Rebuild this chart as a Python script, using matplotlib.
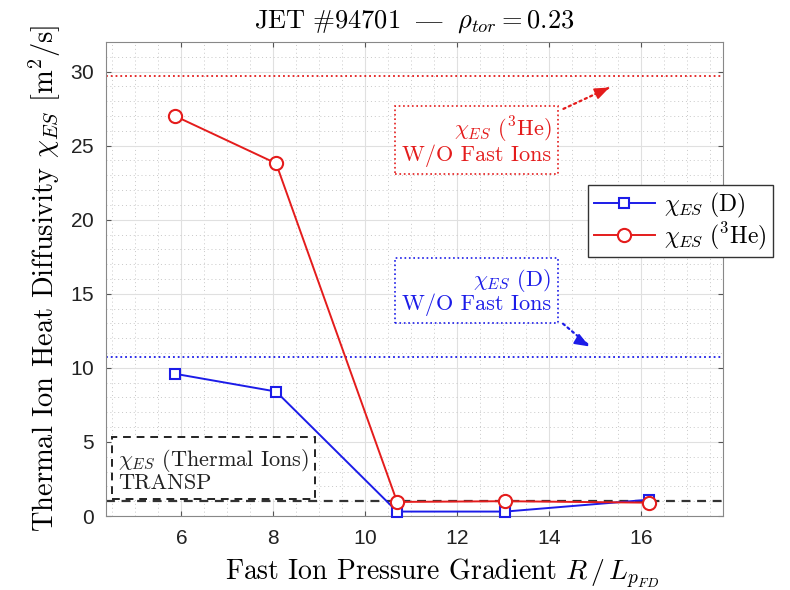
import numpy as np
import matplotlib
matplotlib.use("Agg")
import matplotlib.pyplot as plt
from matplotlib.ticker import MultipleLocator

plt.rcParams['font.family'] = ['cmr10', 'DejaVu Serif']
plt.rcParams['mathtext.fontset'] = 'cm'
plt.rcParams['axes.formatter.use_mathtext'] = True

# data
grad = [5.87, 8.07, 10.7, 13.05, 16.17]
chi_d = [9.6, 8.4, 0.3, 0.3, 1.1]
chi_he = [27.0, 23.8, 0.95, 1.0, 0.9]

chi_he_nofast = 29.7
chi_d_nofast = 10.75
chi_transp = 1.0

blue = '#1c1ce8'
red = '#e41c1c'

fig = plt.figure(figsize=(7.9, 5.9), dpi=100)
ax = fig.add_axes([0.134, 0.1254, 0.781, 0.8036])

ax.axhline(chi_he_nofast, color=red, ls=':', lw=1.3)
ax.axhline(chi_d_nofast, color=blue, ls=':', lw=1.3)
ax.axhline(chi_transp, color='#333333', ls=(0, (4, 3)), lw=1.6)

ax.plot(grad, chi_d, '-s', color=blue, lw=1.4, ms=7.5, mfc='white', mew=1.5,
        clip_on=False, zorder=4, label=r'$\chi_{ES}\ \mathrm{(D)}$')
ax.plot(grad, chi_he, '-o', color=red, lw=1.4, ms=9.5, mfc='white', mew=1.5,
        clip_on=False, zorder=5, label=r'$\chi_{ES}\ \mathrm{(^3He)}$')

ax.set_xlim(4.37, 17.78)
ax.set_ylim(0, 32)
ax.xaxis.set_major_locator(MultipleLocator(2))
ax.xaxis.set_minor_locator(MultipleLocator(0.5))
ax.yaxis.set_major_locator(MultipleLocator(5))
ax.yaxis.set_minor_locator(MultipleLocator(1))
ax.grid(True, which='major', color='#e0e0e0', lw=0.8)
ax.grid(True, which='minor', color='#c8c8c8', ls=(0, (1, 3)), lw=0.7)
ax.set_axisbelow(True)
ax.tick_params(which='both', direction='in', top=True, right=True,
               labelsize=15, color='#555555')
ax.tick_params(axis='x', pad=9)
ax.tick_params(axis='y', pad=8)
ax.tick_params(which='minor', length=0)
for lab in ax.get_xticklabels() + ax.get_yticklabels():
    lab.set_fontfamily('Liberation Sans')
    lab.set_color('#222222')
for s in ax.spines.values():
    s.set_color('#888888')

ax.set_title(r'$\mathrm{JET\ \#94701\ \ —\ \ }\rho_{tor} = 0.23$', fontsize=19, pad=10)
ax.set_xlabel(r'Fast Ion Pressure Gradient $R\,/\,L_{p_{FD}}$', fontsize=20)
ax.set_ylabel(r'Thermal Ion Heat Diffusivity $\chi_{ES}$ [m$^2$/s]', fontsize=20.5)
ax.xaxis.set_label_coords(0.545, -0.085)
ax.yaxis.set_label_coords(-0.07, 0.5)

# annotation boxes
ax.text(12.43, 25.3, r'$\chi_{ES}$ ($^3$He)' + '\nW/O Fast Ions', color=red,
        fontsize=16, ha='center', va='center', multialignment='right', linespacing=1.0,
        bbox=dict(boxstyle='square,pad=0.3', fc='white', ec=red, ls=':', lw=1.2))
ax.annotate('', xy=(15.37, 29.0), xytext=(14.26, 27.4),
            arrowprops=dict(arrowstyle='-', color=red, ls=':', lw=1.6))
ax.annotate('', xy=(15.37, 29.0), xytext=(14.95, 28.4),
            arrowprops=dict(arrowstyle='-|>,head_length=0.9,head_width=0.35',
                            color=red, lw=1.2))

ax.text(12.43, 15.15, r'$\chi_{ES}$ (D)' + '\nW/O Fast Ions', color=blue,
        fontsize=16, ha='center', va='center', multialignment='right', linespacing=1.0,
        bbox=dict(boxstyle='square,pad=0.3', fc='white', ec=blue, ls=':', lw=1.2))
ax.annotate('', xy=(14.93, 11.35), xytext=(14.26, 13.1),
            arrowprops=dict(arrowstyle='-', color=blue, ls=':', lw=1.6))
ax.annotate('', xy=(14.93, 11.35), xytext=(14.6, 11.95),
            arrowprops=dict(arrowstyle='-|>,head_length=0.9,head_width=0.35',
                            color=blue, lw=1.2))

ax.text(4.63, 3.1, r'$\chi_{ES}$ (Thermal Ions)' + '\nTRANSP', color='#222222',
        fontsize=16, ha='left', va='center', multialignment='left', linespacing=1.0,
        bbox=dict(boxstyle='square,pad=0.25', fc='white', ec='#222222',
                  ls=(0, (4, 3)), lw=1.4))

leg = ax.legend(loc='upper left', bbox_to_anchor=(0.781, 0.698), fontsize=17,
                fancybox=False, framealpha=1, edgecolor='#333333',
                borderaxespad=0, handlelength=2.6, labelspacing=0.0,
                borderpad=0.25, handletextpad=0.4)
leg.set_clip_on(False)

fig.savefig('out.png', dpi=100)
